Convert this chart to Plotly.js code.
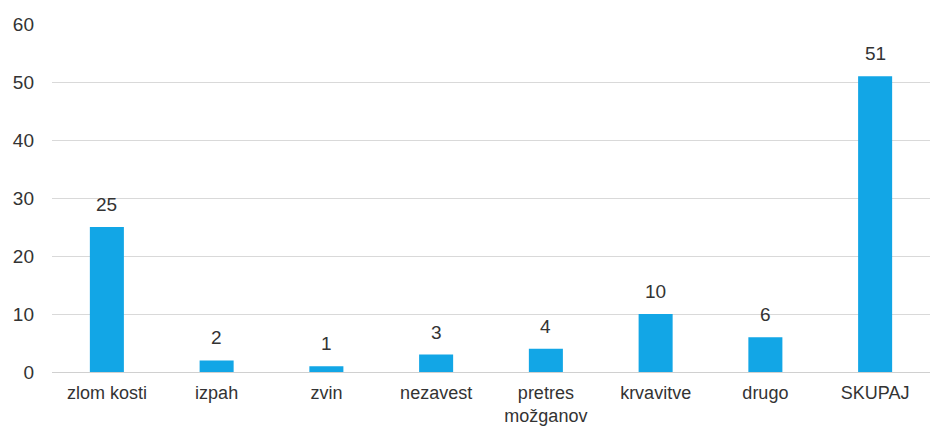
<!DOCTYPE html>
<html><head><meta charset="utf-8">
<script src="https://cdn.plot.ly/plotly-3.0.1.min.js"></script>
<style>html,body{margin:0;padding:0;background:#fff}</style>
</head><body><div id="c" style="width:931px;height:428px"></div>
<script>
const categories = ["zlom kosti","izpah","zvin","nezavest","pretres<br>možganov","krvavitve","drugo","SKUPAJ"];
const values = [25,2,1,3,4,10,6,51];
const yTicks = [0,10,20,30,40,50,60];

const FONT = "Liberation Sans, Arial, sans-serif";
const annotations = categories.map((c,i)=>({
  x:c, y:values[i], xref:"x", yref:"y", text:String(values[i]),
  showarrow:false, yanchor:"bottom", yshift:10,
  font:{family:FONT, size:19, color:"#333"}
}));

Plotly.newPlot("c",[{
  type:"bar", x:categories, y:values,
  marker:{color:"#12A6E6"},
  hoverinfo:"none"
}],{
  width:931, height:428,
  margin:{l:52,r:1,t:24,b:56},
  paper_bgcolor:"#fff", plot_bgcolor:"#fff",
  bargap:0.69,
  showlegend:false,
  annotations:annotations,
  font:{family:FONT, size:19, color:"#333"},
  xaxis:{type:"category", showgrid:false, showline:false, zeroline:false, ticks:"", tickfont:{size:18,color:"#333"}, ticklabelstandoff:8},
  yaxis:{range:[0,60], tickvals:yTicks, ticktext:yTicks.map(String), showgrid:true, gridcolor:"#d9d9d9", gridwidth:1, zeroline:true, zerolinecolor:"#d0d0d0", zerolinewidth:1, showline:false, ticks:"", tickfont:{size:19,color:"#333"}, ticklabelstandoff:17}
},{staticPlot:true});
</script></body></html>
